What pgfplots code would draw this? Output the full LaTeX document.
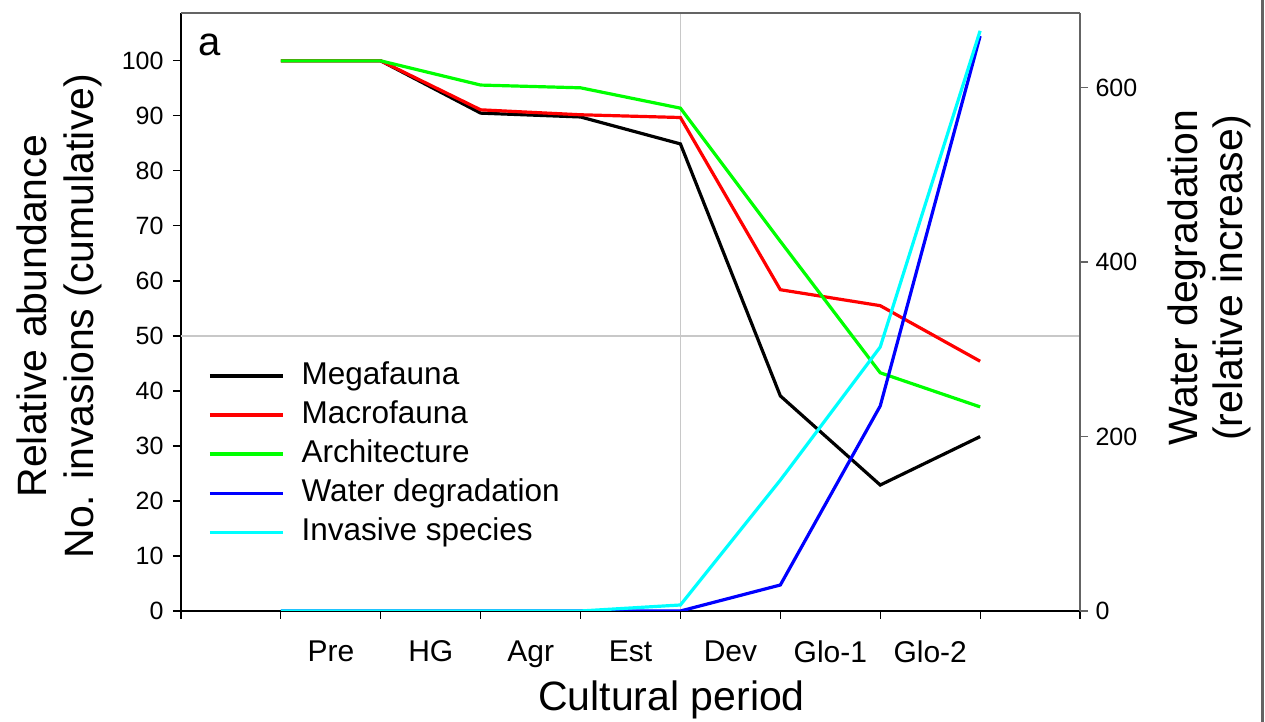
\documentclass[border=0pt]{standalone}
\usepackage{fontspec}
\setmainfont{Liberation Sans}
\usepackage{pgfplots}
\pgfplotsset{compat=1.18}
\definecolor{spinegray}{RGB}{100,100,100}
\definecolor{gridgray}{RGB}{200,200,200}
\definecolor{cgreen}{RGB}{0,255,0}
\definecolor{ccyan}{RGB}{0,255,255}
\definecolor{cblue}{RGB}{0,0,255}
\definecolor{cred}{RGB}{255,0,0}
\begin{document}
\begin{tikzpicture}
\path[use as bounding box] (-181pt,-111pt) rectangle (1084pt,611pt);
\begin{axis}[
  at={(0pt,0pt)}, anchor=south west,
  scale only axis, width=899pt, height=598pt,
  xmin=0, xmax=9, ymin=0, ymax=108.7,
  axis x line*=bottom, axis y line*=left,
  axis line style={black, line width=1.2pt, -},
  xtick={0,1,2,3,4,5,6,7,8,9},
  xticklabels={,Pre,HG,Agr,Est,Dev,Glo-1,Glo-2,,},
  x tick label style={xshift=50pt, yshift=-18pt, font=\fontsize{30}{36}\selectfont},
  ytick={0,10,20,30,40,50,60,70,80,90,100},
  y tick label style={font=\fontsize{25}{30}\selectfont, xshift=-6pt},
  tick align=outside, major tick length=8pt,
  tick style={black, line width=1.2pt},
  /pgf/number format/assume math mode=true,
  extra x ticks={5}, extra x tick labels={},
  extra x tick style={grid=major, major grid style={gridgray, line width=1.5pt}},
  extra y ticks={50}, extra y tick labels={},
  extra y tick style={grid=major, major grid style={gridgray, line width=1.5pt}},
  xlabel={Cultural period},
  xlabel style={at={(axis description cs:0.5456,-0.149)}, anchor=center, font=\fontsize{41}{46}\selectfont},
  ylabel={Relative abundance\\No. invasions (cumulative)},
  ylabel style={at={(axis description cs:-0.1355,0.493)}, anchor=center, align=center, font=\fontsize{41}{47}\selectfont},
]
\addplot[black, line width=3.2pt] coordinates {(1,100)(2,100)(3,90.5)(4,89.8)(5,84.9)(6,39.1)(7,22.9)(8,31.7)};
\addplot[cred, line width=3.2pt] coordinates {(1,100)(2,100)(3,91.1)(4,90.2)(5,89.7)(6,58.4)(7,55.5)(8,45.4)};
\addplot[cgreen, line width=3.2pt] coordinates {(1,100)(2,100)(3,95.6)(4,95.1)(5,91.4)(6,67.2)(7,43.3)(8,37.1)};
\node[font=\fontsize{40}{46}\selectfont] at (rel axis cs:0.032,0.946) {a};
\end{axis}
\begin{axis}[
  at={(0pt,0pt)}, anchor=south west,
  scale only axis, width=899pt, height=598pt,
  xmin=0, xmax=9, ymin=0, ymax=685.4,
  axis x line*=top, axis y line*=right,
  axis line style={spinegray, line width=1.2pt, -},
  xtick=\empty,
  ytick={0,200,400,600},
  tick align=outside, major tick length=8pt,
  tick style={spinegray, line width=1.2pt},
  y tick label style={font=\fontsize{25}{30}\selectfont, xshift=4pt},
  /pgf/number format/assume math mode=true,
  ylabel={Water degradation\\(relative increase)},
  ylabel style={at={(axis description cs:1.144,0.557)}, anchor=center, align=center, font=\fontsize{41}{45}\selectfont},
  legend style={draw=none, fill=none, at={(0.030,0.4256)}, anchor=north west,
    inner sep=0pt, font=\fontsize{31.5}{36}\selectfont,
    nodes={inner sep=4pt, text height=24pt, text depth=7pt}, column sep=13pt},
  legend cell align=left,
  legend image code/.code={\draw[#1] (0pt,0pt) -- (73pt,0pt);},
]
\addlegendimage{black, line width=3.5pt}
\addlegendentry{Megafauna}
\addlegendimage{cred, line width=3.5pt}
\addlegendentry{Macrofauna}
\addlegendimage{cgreen, line width=3.5pt}
\addlegendentry{Architecture}
\addplot[cblue, line width=3.2pt] coordinates {(1,0)(2,0)(3,0)(4,0)(5,0)(6,29.8)(7,235)(8,659)};
\addlegendentry{Water degradation}
\addplot[ccyan, line width=3.2pt] coordinates {(1,0)(2,0)(3,0)(4,0)(5,6.9)(6,150)(7,302.6)(8,665)};
\addlegendentry{Invasive species}
\end{axis}
\draw[spinegray, line width=3pt] (1081.5pt,-111pt) -- (1081.5pt,611pt);
\end{tikzpicture}
\end{document}
